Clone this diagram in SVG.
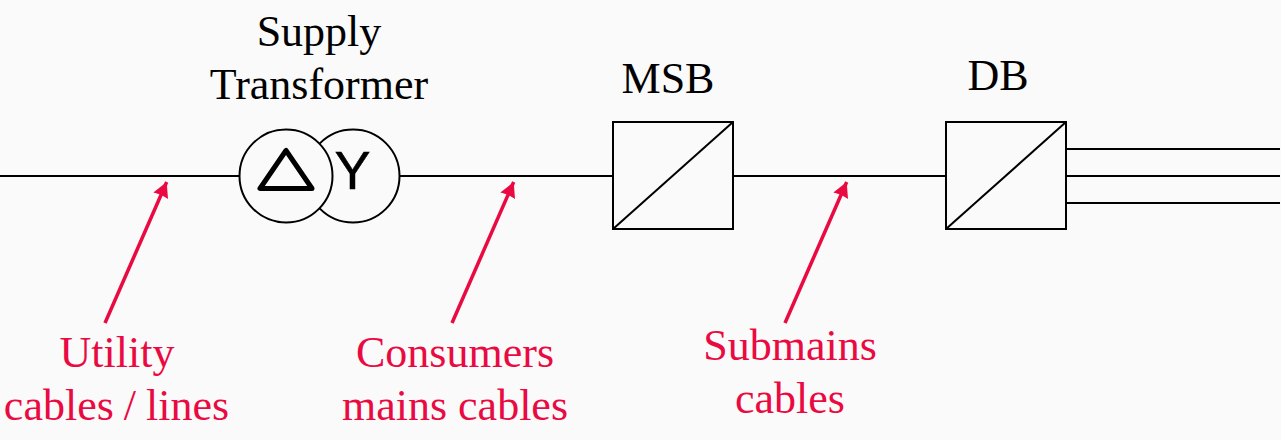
<svg xmlns="http://www.w3.org/2000/svg" width="1281" height="440" viewBox="0 0 1281 440">
<style>
.l{fill:none;stroke:#000;stroke-width:2}
.c{fill:#fafafa;stroke:#000;stroke-width:2}
.a{fill:none;stroke:#ea0a42;stroke-width:3.500}
.t{font-family:"Liberation Serif",serif;font-size:44px;text-anchor:middle;fill:#000}
text.r{font-family:"Liberation Serif",serif;font-size:44px;text-anchor:middle;fill:#ea0a42}
</style>
<defs>
<marker id="ah" markerUnits="userSpaceOnUse" markerWidth="16" markerHeight="17" refX="15" refY="8" orient="auto" viewBox="0 0 16 17"><path d="M0 0L15 8L0 16L1 8Z" fill="#ea0a42"/></marker>
</defs>
<rect width="1281" height="440" fill="#fafafa"/>
<g id="connectors">
<path class="l" d="M0 176H240M399 176H613M733 176H946M1066 149H1280M1066 176H1280M1066 203H1280"/>
<path class="a" d="M105 323L166.700 182" marker-end="url(#ah)"/>
<path class="a" d="M452 323L513.700 182" marker-end="url(#ah)"/>
<path class="a" d="M785 323L846.700 182" marker-end="url(#ah)"/>
</g>
<g id="transformer">
<circle class="c" cx="353" cy="176" r="46.500"/>
<circle class="c" cx="286" cy="176" r="46.500"/>
<path d="M286 150.500L260 188.500H312Z" fill="none" stroke="#000" stroke-width="5" stroke-linejoin="round"/>
<text x="352.500" y="189" font-family="Liberation Sans,sans-serif" font-size="54" text-anchor="middle" fill="#000" stroke="#000" stroke-width="0.500">Y</text>
<text class="t" x="319" y="46">Supply</text>
<text class="t" x="319" y="99">Transformer</text>
</g>
<g id="msb">
<rect class="l" x="613" y="122" width="120" height="107"/>
<path class="l" d="M613 229L733 122"/>
<text class="t" x="668" y="93">MSB</text>
</g>
<g id="db">
<rect class="l" x="946" y="122" width="120" height="107"/>
<path class="l" d="M946 229L1066 122"/>
<text class="t" x="998" y="90">DB</text>
</g>
<g id="utility">
<text class="r" x="117" y="367">Utility</text>
<text class="r" x="116.500" y="420" word-spacing="-1">cables / lines</text>
</g>
<g id="consumers">
<text class="r" x="455" y="367">Consumers</text>
<text class="r" x="455" y="420">mains cables</text>
</g>
<g id="submains">
<text class="r" x="790" y="360">Submains</text>
<text class="r" x="790" y="413">cables</text>
</g>
</svg>
